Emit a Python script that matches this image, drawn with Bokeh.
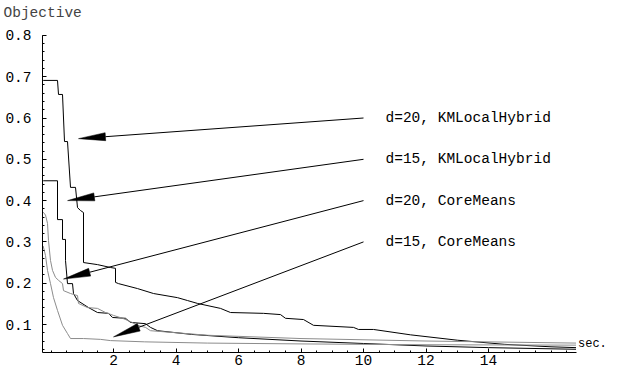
from bokeh.plotting import figure
from bokeh.models import Range1d, Label, FixedTicker
from bokeh.embed import file_html
from bokeh.resources import INLINE
import math

# ---- data (seconds, objective) ----
t_d20_km = [-0.25, 0.208, 0.24, 0.368, 0.432, 0.528, 0.624, 0.784, 0.848, 0.944, 1.04, 1.04, 1.488, 1.904, 2.064, 2.064, 2.16,
            2.768, 3.28, 4.048, 4.368, 4.688, 5.424, 5.744, 6.8, 7.344, 7.504, 8.08, 8.4, 9.68, 9.84, 10.32,
            11.5, 13.0, 14.5, 16.0, 16.8]
v_d20_km = [0.691, 0.691, 0.657, 0.657, 0.543, 0.543, 0.432, 0.432, 0.383, 0.376, 0.371, 0.250, 0.245, 0.238, 0.236, 0.202, 0.199,
            0.187, 0.175, 0.165, 0.158, 0.151, 0.139, 0.129, 0.127, 0.124, 0.115, 0.112, 0.098, 0.093, 0.088, 0.088,
            0.075, 0.062, 0.052, 0.046, 0.044]

t_d15_km = [-0.25, 0.208, 0.208, 0.368, 0.368, 0.464, 0.464, 0.528, 0.688, 0.72, 0.848, 1.2, 1.488, 1.84, 1.968, 2.384, 2.544,
            3.024, 3.184, 3.408, 4.5, 6.0, 8.0, 10.0, 12.0, 14.0, 16.8]
v_d15_km = [0.448, 0.448, 0.354, 0.354, 0.306, 0.306, 0.255, 0.199, 0.199, 0.175, 0.158, 0.141, 0.129, 0.127, 0.117, 0.115, 0.105,
            0.102, 0.093, 0.085, 0.076, 0.068, 0.060, 0.054, 0.048, 0.044, 0.040]

t_d20_cm = [-0.25, -0.176, -0.112, -0.08, -0.016, 0.048, 0.144, 0.24, 0.368, 0.4, 0.624, 0.848, 0.88, 1.168, 1.488, 1.744, 2.0,
            2.288, 2.544, 2.768, 3.024, 3.184, 5.0, 8.0, 12.0, 16.8]
v_d20_cm = [0.372, 0.365, 0.345, 0.303, 0.255, 0.231, 0.214, 0.207, 0.199, 0.182, 0.175, 0.170, 0.151, 0.141, 0.139, 0.129, 0.122,
            0.115, 0.107, 0.098, 0.093, 0.085, 0.074, 0.066, 0.060, 0.055]

t_d15_cm = [-0.25, -0.176, -0.112, -0.016, 0.08, 0.208, 0.368, 0.528, 0.624, 1.04, 1.584, 1.904, 3.0, 5.0, 8.0, 12.0, 16.8]
v_d15_cm = [0.290, 0.267, 0.231, 0.199, 0.165, 0.134, 0.098, 0.078, 0.066, 0.066, 0.064, 0.061, 0.058, 0.055, 0.053, 0.051, 0.050]

labels = ["d=20, KMLocalHybrid", "d=15, KMLocalHybrid", "d=20, CoreMeans", "d=15, CoreMeans"]
label_y = [0.6, 0.5, 0.4, 0.3]
tail_x = 10.0
tip_x = [0.88, 0.53, 0.40, 2.0]
tip_y = [0.55, 0.40, 0.21, 0.07]

y_ticks = [0.1, 0.2, 0.3, 0.4, 0.5, 0.6, 0.7, 0.8]
x_ticks = [2, 4, 6, 8, 10, 12, 14]

K = 31.25           # px per second
KY = 413.0          # px per objective unit
LEFT, TOP, BOTTOM = 42, 20, 18
FW = 608 - LEFT
FH = 370 - TOP - BOTTOM
X0 = (LEFT - 50.5) / K
X1 = X0 + FW / K
Y0 = (365.3 - (370 - BOTTOM)) / KY
Y1 = Y0 + FH / KY
XAX_END = 16.8
FONT = "Liberation Mono"
FS = "14.5px"

p = figure(frame_width=FW, frame_height=FH, output_backend="svg", toolbar_location=None,
           x_range=Range1d(X0, X1), y_range=Range1d(Y0, Y1),
           min_border_left=LEFT, min_border_top=TOP, min_border_right=0, min_border_bottom=BOTTOM)
p.outline_line_color = None
p.xgrid.visible = False
p.ygrid.visible = False

p.title.text = "Objective"
p.title.align = "left"
p.title.offset = -39
p.title.standoff = 0
p.title.text_font = FONT
p.title.text_font_size = FS
p.title.text_font_style = "normal"

for ax in (p.xaxis[0], p.yaxis[0]):
    ax.axis_line_color = "black"
    ax.major_tick_line_color = "black"
    ax.minor_tick_line_color = "black"
    ax.major_tick_in = 4
    ax.major_tick_out = 0
    ax.minor_tick_in = 2
    ax.minor_tick_out = 0
    ax.major_label_text_font = FONT
    ax.major_label_text_font_size = FS
    ax.major_label_text_color = "black"

p.yaxis.bounds = (Y0, 0.8)
p.xaxis.bounds = (X0, XAX_END)
p.yaxis.ticker = FixedTicker(ticks=y_ticks, minor_ticks=[round(0.04 + 0.02 * i, 2) for i in range(39)])
p.xaxis.ticker = FixedTicker(ticks=x_ticks, minor_ticks=[0.5 * i for i in range(0, 34)])
p.yaxis.major_label_overrides = {t: f"{t:.1f}" for t in y_ticks}
p.yaxis.major_label_standoff = 11
p.xaxis.major_label_standoff = 2

p.line(t_d20_km, v_d20_km, line_color="black", line_width=1)
p.line(t_d15_km, v_d15_km, line_color="black", line_width=1)
p.line(t_d20_cm, v_d20_cm, line_color="#8c8c8c", line_width=1)
p.line(t_d15_cm, v_d15_cm, line_color="#8c8c8c", line_width=1)

# arrows with long, narrow heads
HL, HW = 27.0, 4.0
for lab, ly, tx, ty in zip(labels, label_y, tip_x, tip_y):
    dx = (tail_x - tx) * K
    dy = (ly - ty) * KY
    d = math.hypot(dx, dy)
    ux, uy = dx / d, dy / d
    nx, ny = -uy, ux
    bx, by = tx * K + HL * ux, ty * KY + HL * uy
    px = [tx, (bx + HW * nx) / K, (bx - HW * nx) / K]
    py = [ty, (by + HW * ny) / KY, (by - HW * ny) / KY]
    p.patch(px, py, fill_color="black", line_color="black", line_width=0.5)
    p.line([bx / K, tail_x], [by / KY, ly], line_color="black", line_width=1)
    p.add_layout(Label(x=tail_x, y=ly, x_offset=22, text=lab, text_font=FONT, text_font_size=FS,
                       text_baseline="middle", text_align="left", text_color="black"))

p.add_layout(Label(x=XAX_END, y=Y0, x_offset=2, y_offset=2, text="sec.", text_font=FONT, text_font_size="12px",
                   text_baseline="bottom", text_align="left", text_color="black"))

open("out.html", "w").write(file_html(p, INLINE))
